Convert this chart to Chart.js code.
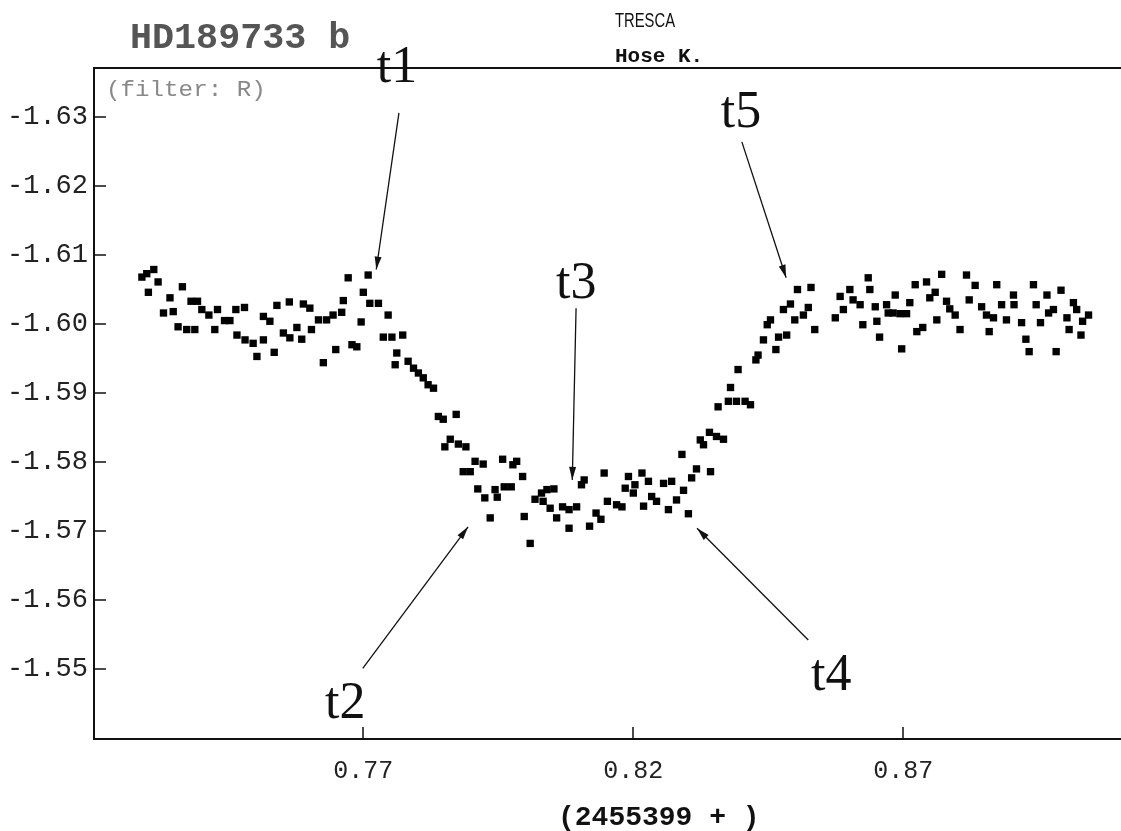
<!DOCTYPE html>
<html lang="en">
<head>
  <meta charset="UTF-8">
  <title>HD189733 b - TRESCA light curve</title>
  <style>
    body {
      margin: 0;
      background: #fff;
    }
    #wrap {
      width: 1121px;
      height: 831px;
    }
  </style>
  <script src="https://cdn.jsdelivr.net/npm/chart.js"></script>
</head>
<body>
  <div id="wrap"><canvas id="lc" width="1121" height="831"></canvas></div>

  <script>
    // time (JD - 2455399) and relative magnitude
    const jd = [
      0.7290, 0.7299, 0.7312, 0.7320, 0.7302, 0.7342, 0.7365, 0.7330, 0.7348, 0.7381,
      0.7393, 0.7357, 0.7373, 0.7388, 0.7401, 0.7414, 0.7430, 0.7425, 0.7443, 0.7453,
      0.7464, 0.7480, 0.7466, 0.7481, 0.7496, 0.7515, 0.7503, 0.7535, 0.7515, 0.7527,
      0.7540, 0.7563, 0.7589, 0.7601, 0.7552, 0.7564, 0.7577, 0.7586, 0.7604, 0.7617,
      0.7632, 0.7644, 0.7660, 0.7663, 0.7672, 0.7626, 0.7649, 0.7679, 0.7688, 0.7709,
      0.7700, 0.7696, 0.7712, 0.7728, 0.7746, 0.7737, 0.7753, 0.7762,
      0.7773, 0.7759, 0.7783, 0.7793, 0.7802, 0.7811, 0.7820, 0.7830, 0.7839, 0.7848,
      0.7872, 0.7861, 0.7851, 0.7876, 0.7890, 0.7907, 0.7922, 0.7885, 0.7898, 0.7958,
      0.7984, 0.7977, 0.7995, 0.7912, 0.7925, 0.7944, 0.7948, 0.7961, 0.7974, 0.7935,
      0.7998, 0.8009, 0.8018, 0.8030, 0.8040, 0.8053, 0.8033, 0.8046, 0.8058, 0.8069,
      0.8081, 0.8095, 0.8081, 0.8104, 0.8109, 0.8146, 0.8152, 0.8119, 0.8131, 0.8140,
      0.8169, 0.8179, 0.8191, 0.8185, 0.8203, 0.8200, 0.8216, 0.8228, 0.8219, 0.8234,
      0.8243, 0.8256, 0.8271, 0.8265, 0.8280, 0.8293, 0.8302, 0.8308, 0.8317, 0.8343,
      0.8290, 0.8324, 0.8341, 0.8354, 0.8367, 0.8330,
      0.8357, 0.8376, 0.8391, 0.8407, 0.8417, 0.8380, 0.8394, 0.8427, 0.8431, 0.8441,
      0.8448, 0.8454, 0.8464, 0.8469, 0.8484, 0.8478, 0.8491, 0.8499, 0.8515, 0.8524,
      0.8504, 0.8529, 0.8536, 0.8574, 0.8589, 0.8583, 0.8601, 0.8607, 0.8620, 0.8635,
      0.8638, 0.8648, 0.8625, 0.8651, 0.8656,
      0.8669, 0.8672, 0.8681, 0.8694, 0.8706, 0.8685, 0.8712, 0.8697, 0.8722, 0.8743,
      0.8759, 0.8749, 0.8771, 0.8725, 0.8736, 0.8762, 0.8780, 0.8786, 0.8796, 0.8805,
      0.8817, 0.8833, 0.8822, 0.8845, 0.8854, 0.8867, 0.8859, 0.8873, 0.8882, 0.8891,
      0.8904, 0.8905, 0.8919, 0.8927, 0.8933, 0.8941, 0.8946, 0.8954, 0.8966, 0.8969,
      0.8978, 0.8983, 0.8992, 0.9003, 0.9007, 0.9015, 0.9021, 0.9029, 0.9032, 0.9043
    ];
    const mag = [
      -1.6068, -1.6073, -1.6079, -1.6061, -1.6046, -1.6038, -1.6054, -1.6016, -1.6018, -1.6033,
      -1.6033, -1.5996, -1.5992, -1.5992, -1.6021, -1.6013, -1.6021, -1.5992, -1.6005, -1.6005,
      -1.6021, -1.6024, -1.5984, -1.5977, -1.5972, -1.5977, -1.5953, -1.5959, -1.6011, -1.6004,
      -1.6027, -1.6032, -1.6029, -1.6023, -1.5987, -1.5980, -1.5995, -1.5978, -1.5992, -1.6006,
      -1.6006, -1.6013, -1.6017, -1.6034, -1.6067, -1.5944, -1.5963, -1.5970, -1.5967, -1.6071,
      -1.6046, -1.6003, -1.6030, -1.6030, -1.6013, -1.5981, -1.5981, -1.5958,
      -1.5984, -1.5941, -1.5946, -1.5936, -1.5929, -1.5922, -1.5912, -1.5907, -1.5866, -1.5862,
      -1.5869, -1.5833, -1.5822, -1.5826, -1.5822, -1.5801, -1.5797, -1.5786, -1.5786, -1.5804,
      -1.5801, -1.5796, -1.5779, -1.5761, -1.5748, -1.5760, -1.5749, -1.5764, -1.5764, -1.5719,
      -1.5721, -1.5682, -1.5746, -1.5755, -1.5760, -1.5761, -1.5743, -1.5733, -1.5719, -1.5735,
      -1.5731, -1.5735, -1.5704, -1.5767, -1.5774, -1.5784, -1.5743, -1.5707, -1.5726, -1.5717,
      -1.5738, -1.5735, -1.5779, -1.5762, -1.5767, -1.5755, -1.5784, -1.5772, -1.5736, -1.5750,
      -1.5743, -1.5769, -1.5772, -1.5731, -1.5745, -1.5759, -1.5725, -1.5777, -1.5790, -1.5786,
      -1.5811, -1.5832, -1.5843, -1.5837, -1.5833, -1.5825,
      -1.5880, -1.5888, -1.5888, -1.5888, -1.5883, -1.5908, -1.5934, -1.5948, -1.5955, -1.5977,
      -1.5999, -1.6006, -1.5963, -1.5981, -1.5984, -1.6021, -1.6029, -1.6006, -1.6013, -1.6024,
      -1.6050, -1.6053, -1.5992, -1.6009, -1.6021, -1.6040, -1.6050, -1.6035, -1.6028, -1.6067,
      -1.6050, -1.6025, -1.5999, -1.6004, -1.5981,
      -1.6028, -1.6016, -1.6016, -1.6015, -1.6015, -1.6042, -1.6031, -1.5964, -1.6057, -1.6061,
      -1.6046, -1.6038, -1.6072, -1.5989, -1.5995, -1.6006, -1.6033, -1.6022, -1.6013, -1.5992,
      -1.6071, -1.6056, -1.6035, -1.6025, -1.6013, -1.6009, -1.5989, -1.6057, -1.6028, -1.6006,
      -1.6042, -1.6028, -1.6002, -1.5978, -1.5960, -1.6057, -1.6028, -1.6002, -1.6042, -1.6016,
      -1.6021, -1.5960, -1.6049, -1.6009, -1.5992, -1.6031, -1.6021, -1.5984, -1.6004, -1.6013
    ];

    const xTicks = [0.77, 0.82, 0.87];
    const yTicks = [-1.63, -1.62, -1.61, -1.60, -1.59, -1.58, -1.57, -1.56, -1.55];

    // contact point markers t1..t5 (label spot and arrow, in axis units)
    const markNames = ['t1', 't2', 't3', 't4', 't5'];
    const markTextX = [0.7725, 0.7629, 0.8057, 0.8529, 0.8362];
    const markTextY = [-1.6351, -1.5429, -1.6038, -1.5470, -1.6286];
    const arrowFromX = [0.7766, 0.7699, 0.8094, 0.8524, 0.8401];
    const arrowFromY = [-1.6306, -1.5501, -1.6023, -1.5542, -1.6264];
    const arrowToX = [0.7724, 0.7894, 0.8087, 0.8318, 0.8483];
    const arrowToY = [-1.6079, -1.5706, -1.5774, -1.5704, -1.6067];

    const points = jd.map((t, i) => ({ x: t, y: mag[i] }));

    // text squeezed/stretched sideways, the original uses an odd bitmap font
    function wideText(ctx, str, x, y, font, color, sx) {
      ctx.save();
      ctx.font = font;
      ctx.fillStyle = color;
      ctx.textBaseline = 'alphabetic';
      ctx.textAlign = 'left';
      ctx.translate(x, y);
      ctx.scale(sx, 1);
      ctx.fillText(str, 0, 0);
      ctx.restore();
    }

    const decor = {
      id: 'decor',
      afterDraw(chart) {
        const { ctx, chartArea: a, scales: { x, y } } = chart;
        ctx.save();

        // top frame line
        ctx.strokeStyle = '#111';
        ctx.lineWidth = 2;
        ctx.beginPath();
        ctx.moveTo(a.left, a.top);
        ctx.lineTo(a.right, a.top);
        ctx.stroke();

        // tick marks pointing into the plot
        ctx.lineWidth = 1.5;
        ctx.beginPath();
        yTicks.forEach(v => {
          const py = Math.round(y.getPixelForValue(v));
          ctx.moveTo(a.left, py);
          ctx.lineTo(a.left + 12, py);
        });
        xTicks.forEach(v => {
          const px = Math.round(x.getPixelForValue(v));
          ctx.moveTo(px, a.bottom);
          ctx.lineTo(px, a.bottom - 12);
        });
        ctx.stroke();

        // header texts
        wideText(ctx, 'HD189733 b', 130, 48, 'bold 36px "Liberation Mono"', '#555', 1.02);
        wideText(ctx, '(filter: R)', 106, 96, '22px "Liberation Mono"', '#888', 1.1);
        wideText(ctx, 'TRESCA', 615, 27, '20px "Liberation Sans"', '#111', 0.74);
        wideText(ctx, 'Hose K.', 615, 62, 'bold 21px "Liberation Mono"', '#111', 1.0);
        wideText(ctx, '(2455399 + )', 558, 825, 'bold 28px "Liberation Mono"', '#111', 1.0);

        // t1..t5 with arrows
        ctx.strokeStyle = '#111';
        ctx.fillStyle = '#111';
        ctx.lineWidth = 1.3;
        markNames.forEach((name, i) => {
          const x0 = x.getPixelForValue(arrowFromX[i]);
          const y0 = y.getPixelForValue(arrowFromY[i]);
          const x1 = x.getPixelForValue(arrowToX[i]);
          const y1 = y.getPixelForValue(arrowToY[i]);
          ctx.beginPath();
          ctx.moveTo(x0, y0);
          ctx.lineTo(x1, y1);
          ctx.stroke();
          const ang = Math.atan2(y1 - y0, x1 - x0);
          const len = 13, half = 3.5;
          ctx.beginPath();
          ctx.moveTo(x1, y1);
          ctx.lineTo(x1 - len * Math.cos(ang) + half * Math.sin(ang), y1 - len * Math.sin(ang) - half * Math.cos(ang));
          ctx.lineTo(x1 - len * Math.cos(ang) - half * Math.sin(ang), y1 - len * Math.sin(ang) + half * Math.cos(ang));
          ctx.closePath();
          ctx.fill();

          ctx.font = '52px "Liberation Serif"';
          ctx.textBaseline = 'alphabetic';
          ctx.textAlign = 'left';
          ctx.fillText(name, x.getPixelForValue(markTextX[i]), y.getPixelForValue(markTextY[i]));
        });

        ctx.restore();
      }
    };

    const ctx = document.getElementById('lc').getContext('2d');

    new Chart(ctx, {
      type: 'scatter',
      data: {
        datasets: [{
          data: points,
          pointStyle: 'rect',
          pointRadius: 5.2,
          pointBorderWidth: 0,
          backgroundColor: '#000',
          borderColor: '#000'
        }]
      },
      options: {
        responsive: false,
        animation: false,
        events: [],
        devicePixelRatio: 1,
        layout: {
          autoPadding: false,   // otherwise point radius eats the right edge
          padding: { top: 68, left: 0, right: 0, bottom: 0 }
        },
        plugins: {
          legend: { display: false },
          tooltip: { enabled: false }
        },
        scales: {
          x: {
            type: 'linear',
            min: 0.72013,
            max: 0.91031,
            afterBuildTicks: s => { s.ticks = xTicks.map(v => ({ value: v })); },
            afterFit: s => { s.height = 92; },
            grid: { display: false, drawTicks: false },
            border: { display: true, color: '#111', width: 2 },
            ticks: {
              padding: 17,
              color: '#222',
              font: { family: '"Liberation Mono"', size: 25 },
              callback: v => v.toFixed(2)
            }
          },
          y: {
            type: 'linear',
            reverse: true,
            min: -1.63711,
            max: -1.53985,
            afterBuildTicks: s => { s.ticks = yTicks.map(v => ({ value: v })); },
            afterFit: s => { s.width = 94; },
            grid: { display: false, drawTicks: false },
            border: { display: true, color: '#111', width: 2 },
            ticks: {
              padding: 6,
              color: '#222',
              font: { family: '"Liberation Mono"', size: 27 },
              callback: v => v.toFixed(2)
            }
          }
        }
      },
      plugins: [decor]
    });
  </script>
</body>
</html>
